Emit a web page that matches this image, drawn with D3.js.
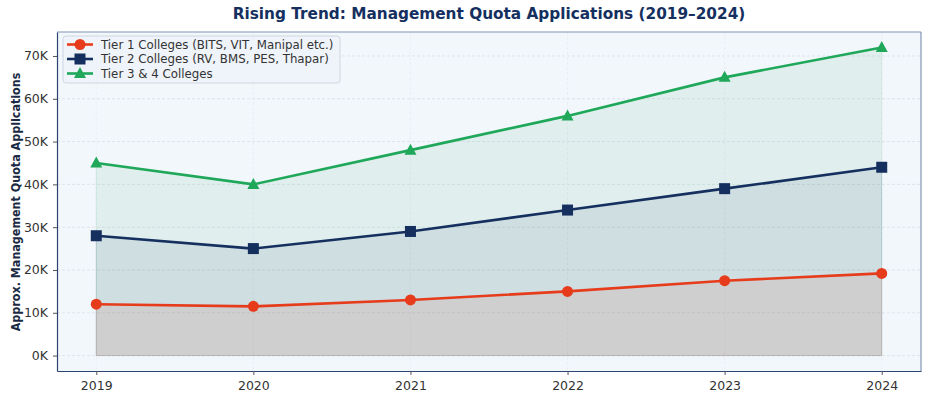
<!DOCTYPE html>
<html><head><meta charset="utf-8">
<script src="https://cdn.jsdelivr.net/npm/d3@7"></script>
<style>body{margin:0;background:#fff}svg{display:block}</style>
</head><body>
<script>
const years = [2019, 2020, 2021, 2022, 2023, 2024];
const tier1 = [12000, 11500, 13000, 15000, 17500, 19200];
const tier2 = [28000, 25000, 29000, 34000, 39000, 44000];
const tier3 = [45000, 40000, 48000, 56000, 65000, 72000];
const seriesNames = ["Tier 1 Colleges (BITS, VIT, Manipal etc.)", "Tier 2 Colleges (RV, BMS, PES, Thapar)", "Tier 3 & 4 Colleges"];
const yTicks = [0, 10000, 20000, 30000, 40000, 50000, 60000, 70000];
const title = "Rising Trend: Management Quota Applications (2019–2024)";
const yLabel = "Approx. Management Quota Applications";

const W = 929, H = 398;
const L = 57, R = 921, T = 32, B = 371;
const colors = ["#e63c1c", "#15305f", "#1fa85a"];
const shapes = ["circle", "square", "triangle"];
const series = [tier1, tier2, tier3];

const svg = d3.select("body").append("svg").attr("width", W).attr("height", H);
svg.append("rect").attr("x", L).attr("y", T).attr("width", R - L).attr("height", B - T).attr("fill", "#f2f7fc");

const x = d3.scaleLinear().domain([2018.75, 2024.25]).range([L, R]);
const y = d3.scaleLinear().domain([-3600, 75600]).range([B, T]);

// grid
svg.append("g").selectAll("line").data(yTicks).join("line")
  .attr("x1", L).attr("x2", R).attr("y1", d => y(d)).attr("y2", d => y(d))
  .attr("stroke", "#d8dee8").attr("stroke-dasharray", "3,2").attr("stroke-width", 0.8);
svg.append("g").selectAll("line").data(years).join("line")
  .attr("y1", T).attr("y2", B).attr("x1", d => x(d)).attr("x2", d => x(d))
  .attr("stroke", "#e3e8f0").attr("stroke-dasharray", "3,2").attr("stroke-width", 0.6);

// fills (draw tier3 first)
const area = d3.area().x((d, i) => x(years[i])).y0(y(0)).y1(d => y(d));
[2, 1, 0].forEach(k => {
  svg.append("path").datum(series[k]).attr("d", area)
    .attr("fill", colors[k]).attr("fill-opacity", 0.085)
    .attr("stroke", colors[k]).attr("stroke-opacity", 0.1);
});

const line = d3.line().x((d, i) => x(years[i])).y(d => y(d));
function marker(g, shape, cx, cy, color) {
  if (shape === "circle") g.append("circle").attr("cx", cx).attr("cy", cy).attr("r", 5.5).attr("fill", color);
  else if (shape === "square") g.append("rect").attr("x", cx - 5.5).attr("y", cy - 5.5).attr("width", 11).attr("height", 11).attr("fill", color);
  else g.append("path").attr("d", `M${cx},${cy - 6.5}L${cx + 6},${cy + 4.5}L${cx - 6},${cy + 4.5}Z`).attr("fill", color);
}
[0, 1, 2].forEach(k => {
  svg.append("path").datum(series[k]).attr("d", line).attr("fill", "none")
    .attr("stroke", colors[k]).attr("stroke-width", 2.6);
  const g = svg.append("g");
  series[k].forEach((v, i) => marker(g, shapes[k], x(years[i]), y(v), colors[k]));
});

// spines
svg.append("line").attr("x1", L).attr("x2", R).attr("y1", T).attr("y2", T).attr("stroke", "#8394b4").attr("stroke-width", 1.2);
svg.append("line").attr("x1", R).attr("x2", R).attr("y1", T).attr("y2", B).attr("stroke", "#8394b4").attr("stroke-width", 1.2);

// axes
const yAxis = svg.append("g").attr("transform", `translate(${L},0)`)
  .call(d3.axisLeft(y).tickValues(yTicks).tickFormat(d => (d / 1000) + "K").tickSize(4).tickSizeOuter(0).tickPadding(5));
const xAxis = svg.append("g").attr("transform", `translate(0,${B})`)
  .call(d3.axisBottom(x).tickValues(years).tickFormat(d3.format("d")).tickSize(4).tickSizeOuter(0).tickPadding(6));
[yAxis, xAxis].forEach(a => {
  a.select(".domain").attr("stroke", "#2c4470").attr("stroke-width", 1.2);
  a.selectAll(".tick line").attr("stroke", "#555");
  a.selectAll("text").attr("font-family", "DejaVu Sans").attr("font-size", 12.5).attr("fill", "#333");
});

// title & labels
svg.append("text").attr("x", 489).attr("y", 19).attr("text-anchor", "middle")
  .attr("font-family", "DejaVu Sans").attr("font-weight", "bold").attr("font-size", 15.3).attr("fill", "#15305f").text(title);
svg.append("text").attr("transform", `translate(19.5,202) rotate(-90) scale(0.93,1)`).attr("text-anchor", "middle")
  .attr("font-family", "DejaVu Sans").attr("font-weight", "bold").attr("font-size", 12).attr("fill", "#1a2a44").text(yLabel);

// legend
const lg = svg.append("g");
lg.append("rect").attr("x", 63).attr("y", 36).attr("width", 277).attr("height", 47).attr("rx", 3)
  .attr("fill", "#eef3f9").attr("fill-opacity", 0.9).attr("stroke", "#d0d6e0");
seriesNames.forEach((n, k) => {
  const ly = 44.5 + k * 14.5;
  lg.append("line").attr("x1", 67).attr("x2", 93).attr("y1", ly).attr("y2", ly).attr("stroke", colors[k]).attr("stroke-width", 2.6);
  marker(lg, shapes[k], 80, ly, colors[k]);
  lg.append("text").attr("x", 101).attr("y", ly + 4).attr("font-family", "DejaVu Sans").attr("font-size", 11.8)
    .attr("fill", "#333").text(n);
});
</script>
</body></html>
